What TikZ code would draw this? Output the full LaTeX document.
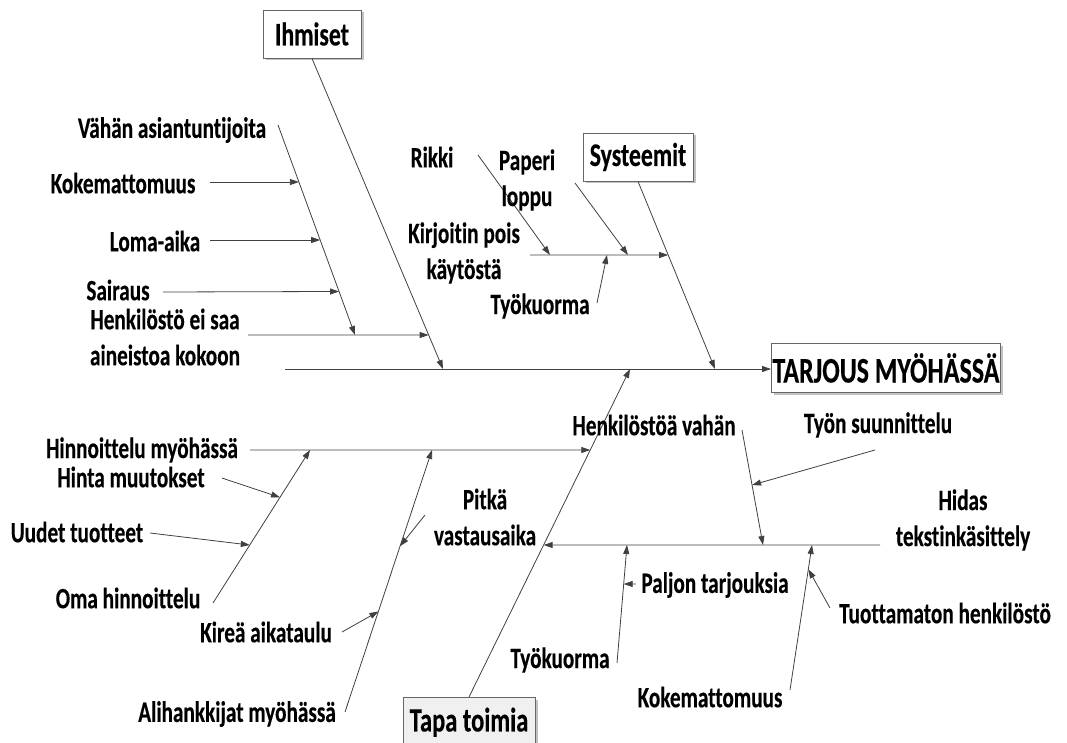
\documentclass[tikz,border=0pt]{standalone}
\usepackage{fontspec}
\setmainfont{Carlito}[FakeStretch=0.72, Ligatures=NoCommon, BoldFeatures={FakeBold=0.3}]
\usetikzlibrary{arrows.meta,shadows}
\begin{document}
\begin{tikzpicture}[x=1pt,y=-1pt,
  line/.style={draw=black!75, line width=0.8pt},
  arr/.style={line, -{Triangle[length=9pt,width=6pt]}},
  lab/.style={inner sep=0pt, font=\bfseries\fontsize{29.5}{36}\selectfont, align=center},
  cat/.style={draw=black!60, line width=0.9pt, fill=white, inner sep=0pt,
    font=\bfseries\fontsize{33}{40}\selectfont,
    drop shadow={shadow xshift=2.5pt, shadow yshift=-2.5pt, fill=black!40, opacity=0.6}},
]
\path[use as bounding box] (0,0) rectangle (1067,743);
\clip (0,0) rectangle (1067,743);

% ---- effect and spine
\node[cat, minimum width=229, minimum height=49, font=\bfseries\fontsize{36}{43}\selectfont] (head) at (886,368) {TARJOUS MYÖHÄSSÄ};
\coordinate (sp0) at (285,369);
\draw[arr] (sp0) -- (sp0 -| head.west);

% ---- Ihmiset
\node[cat, minimum width=98, minimum height=48] (ihm) at (312,34) {Ihmiset};
\coordinate (ihmS) at (ihm.south);
\coordinate (ihmE) at (443,369);
\draw[arr] (ihmS) -- (ihmE);

\node[lab] (hk) at (165,337) {Henkilöstö ei saa\\aineistoa kokoon};
\coordinate (hkS) at (248,335);
\coordinate (hkE) at (intersection of 248,335--600,335 and ihmS--ihmE);
\draw[arr] (hkS) -- (hkE);

\node[lab] (va) at (172,130) {Vähän asiantuntijoita};
\coordinate (vaS) at (278,125);
\coordinate (vaE) at (355,335);
\draw[arr] (vaS) -- (vaE);

\node[lab] (ko1) at (123,183) {Kokemattomuus};
\coordinate (ko1S) at (210,182);
\coordinate (ko1E) at (intersection of 210,182--500,182 and vaS--vaE);
\draw[arr] (ko1S) -- (ko1E);

\node[lab] (lom) at (155,241) {Loma-aika};
\coordinate (lomS) at (210,240);
\coordinate (lomE) at (intersection of 210,240--500,240 and vaS--vaE);
\draw[arr] (lomS) -- (lomE);

\node[lab] (sai) at (118,290) {Sairaus};
\coordinate (saiS) at (163,292);
\coordinate (saiE) at (intersection of 163,292--500,291 and vaS--vaE);
\draw[arr] (saiS) -- (saiE);

% ---- Systeemit
\node[cat, minimum width=110, minimum height=48] (sys) at (638,157) {Systeemit};
\coordinate (sysS) at (sys.south);
\coordinate (sysE) at (715,369);
\draw[arr] (sysS) -- (sysE);

\node[lab] (kp) at (464,253) {Kirjoitin pois\\käytöstä};
\coordinate (kpS) at (530,255);
\coordinate (kpE) at (intersection of 530,255--800,255 and sysS--sysE);
\draw[arr] (kpS) -- (kpE);

\node[lab] (rik) at (432,157) {Rikki};
\coordinate (rikS) at (478,155);
\coordinate (rikE) at (550,255);
\draw[arr] (rikS) -- (rikE);

\node[lab] (pap) at (527,180) {Paperi\\loppu};
\coordinate (papS) at (575,183);
\coordinate (papE) at (628,255);
\draw[arr] (papS) -- (papE);

\node[lab] (tk1) at (540,306) {Työkuorma};
\coordinate (tk1S) at (597,303);
\coordinate (tk1E) at (607,255);
\draw[arr] (tk1S) -- (tk1E);

% ---- Tapa toimia
\node[cat, fill=black!6, anchor=north, minimum width=132, text height=28, text depth=24, inner ysep=6,
  font=\bfseries\fontsize{34}{40}\selectfont] (tapa) at (469,697) {Tapa toimia};
\coordinate (tapaN) at (tapa.north);
\coordinate (tapaE) at (630,369);
\draw[arr] (tapaN) -- (tapaE);

\node[lab] (hin) at (142,450) {Hinnoittelu myöhässä};
\coordinate (hinS) at (250,450);
\coordinate (hinE) at (intersection of 250,450--700,450 and tapaN--tapaE);
\draw[arr] (hinS) -- (hinE);

\node[lab] (oma) at (128,598) {Oma hinnoittelu};
\coordinate (omaS) at (213,603);
\coordinate (omaE) at (310,450);
\draw[arr] (omaS) -- (omaE);

\node[lab] (hm) at (131,477) {Hinta muutokset};
\coordinate (hmS) at (222,478);
\coordinate (hmE) at (intersection of 222,478--282,498 and omaS--omaE);
\draw[arr] (hmS) -- (hmE);

\node[lab] (ut) at (77,532) {Uudet tuotteet};
\coordinate (utS) at (150,533);
\coordinate (utE) at (intersection of 150,533--250,545 and omaS--omaE);
\draw[arr] (utS) -- (utE);

\node[lab] (ali) at (237,714) {Alihankkijat myöhässä};
\coordinate (aliS) at (345,712);
\coordinate (aliE) at (432,450);
\draw[arr] (aliS) -- (aliE);

\node[lab] (kir) at (266,632) {Kireä aikataulu};
\coordinate (kirS) at (342,632);
\coordinate (kirE) at (intersection of 342,632--388,606 and aliS--aliE);
\draw[arr] (kirS) -- (kirE);

\node[lab] (pit) at (485,517) {Pitkä\\vastausaika};
\coordinate (pitS) at (425,515);
\coordinate (pitE) at (intersection of 425,515--405,540 and aliS--aliE);
\draw[arr] (pitS) -- (pitE);

\node[lab] (hid) at (963,520) {Hidas\\tekstinkäsittely};
\coordinate (hidS) at (880,545);
\coordinate (hidE) at (intersection of 880,545--400,545 and tapaN--tapaE);
\draw[arr] (hidS) -- (hidE);

\node[lab] (hv) at (654,425) {Henkilöstöä vahän};
\coordinate (hvS) at (742,430);
\coordinate (hvE) at (763,545);
\draw[arr] (hvS) -- (hvE);

\node[lab] (ts) at (878,425) {Työn suunnittelu};
\coordinate (tsS) at (875,450);
\coordinate (tsE) at (intersection of 875,450--752,485 and hvS--hvE);
\draw[arr] (tsS) -- (tsE);

\node[lab] (tk2) at (560,660) {Työkuorma};
\coordinate (tk2S) at (617,663);
\coordinate (tk2E) at (627,545);
\draw[arr] (tk2S) -- (tk2E);

\node[lab] (pt) at (715,585) {Paljon tarjouksia};
\coordinate (ptS) at (636,584);
\coordinate (ptE) at (intersection of 636,584--600,584 and tk2S--tk2E);
\draw[arr] (ptS) -- (ptE);

\node[lab] (ko2) at (710,697) {Kokemattomuus};
\coordinate (ko2S) at (790,690);
\coordinate (ko2E) at (812,545);
\draw[arr] (ko2S) -- (ko2E);

\node[lab] (tuo) at (945,613) {Tuottamaton henkilöstö};
\coordinate (tuoS) at (830,608);
\coordinate (tuoE) at (intersection of 830,608--816,583 and ko2S--ko2E);
\draw[arr] (tuoS) -- (tuoE);
\end{tikzpicture}
\end{document}
